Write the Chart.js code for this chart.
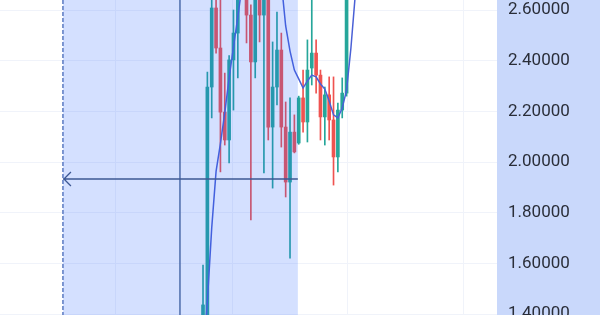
<!DOCTYPE html>
<html>
<head>
<meta charset="utf-8">
<script src="https://cdn.jsdelivr.net/npm/chart.js@4.4.1/dist/chart.umd.min.js"></script>
<style>
  html, body { margin: 0; padding: 0; background: #fff; }
  #chart { display: block; }
</style>
</head>
<body>
<canvas id="chart" width="600" height="315"></canvas>
<script>
// candles, left to right (values above ~2.64 run off the top of the view)
const opens  = [1.37, 1.39, 2.296, 2.608, 2.45, 2.197, 2.087, 2.403, 2.509, 2.70, 2.72, 2.58, 2.395, 2.68, 2.58, 2.68, 2.138, 2.296, 2.442, 2.138, 1.921, 2.118, 2.075, 2.253, 2.158, 2.371, 2.43, 2.343, 2.178, 2.265, 2.166, 2.02, 2.205, 2.272, 2.72, 2.80];
const highs  = [1.593, 2.355, 2.68, 2.68, 2.66, 2.351, 2.42, 2.60, 2.75, 2.80, 2.75, 2.62, 2.72, 2.72, 2.72, 2.72, 2.474, 2.592, 2.509, 2.237, 2.253, 2.186, 2.26, 2.363, 2.482, 2.66, 2.482, 2.363, 2.296, 2.336, 2.336, 2.233, 2.332, 2.75, 2.85, 2.90];
const lows   = [1.30, 1.30, 2.174, 2.43, 1.961, 2.067, 1.996, 2.205, 2.332, 2.66, 2.47, 1.771, 2.332, 2.474, 1.957, 2.087, 1.897, 2.225, 2.059, 1.862, 1.621, 2.036, 2.07, 2.118, 2.079, 2.304, 2.272, 2.087, 2.067, 2.087, 1.909, 1.961, 2.174, 2.26, 2.68, 2.76];
const closes = [1.436, 2.296, 2.608, 2.45, 2.197, 2.087, 2.403, 2.509, 2.70, 2.75, 2.58, 2.395, 2.68, 2.58, 2.68, 2.138, 2.296, 2.442, 2.138, 1.921, 2.118, 2.04, 2.253, 2.158, 2.363, 2.43, 2.343, 2.178, 2.265, 2.166, 2.02, 2.205, 2.272, 2.72, 2.80, 2.86];
const movingAvg = [1.20, 1.45, 1.74, 1.963, 2.073, 2.194, 2.332, 2.454, 2.573, 2.70, 2.80, 2.86, 2.90, 2.92, 2.92, 2.90, 2.86, 2.80, 2.71, 2.537, 2.438, 2.363, 2.328, 2.292, 2.32, 2.343, 2.336, 2.308, 2.288, 2.241, 2.186, 2.174, 2.213, 2.284, 2.45, 2.66];

// visible window and drawing-tool anchors, in bar index / price units
const viewX = { min: -46.67, max: 67.58 };
const viewY = { min: 1.3962, max: 2.6395 };
const timeGrid = [-20.2, 6.67, 33.1, 59.8];
const range = { start: -32.2, end: 21.8, marker: -5.3, price: 1.933 };

const UP = '#26a69a';
const DOWN = '#ef5350';
const candleColor = (ctx) => {
  const i = ctx.dataIndex;
  return closes[i] >= opens[i] ? UP : DOWN;
};

const rangeTool = {
  id: 'rangeTool',
  beforeDraw(chart) {
    const { ctx, chartArea: a } = chart;
    ctx.save();
    ctx.fillStyle = '#fff';
    ctx.fillRect(0, 0, chart.width, chart.height);
    ctx.fillStyle = '#c9d8fb';
    ctx.fillRect(a.right, 0, chart.width - a.right, chart.height);
    ctx.restore();
  },
  afterDatasetsDraw(chart) {
    const { ctx, chartArea: a } = chart;
    const xs = chart.scales.x, ys = chart.scales.y;
    const x0 = xs.getPixelForValue(range.start);
    const x1 = xs.getPixelForValue(range.end);
    const xm = xs.getPixelForValue(range.marker);
    const ym = ys.getPixelForValue(range.price);

    ctx.save();
    ctx.fillStyle = 'rgba(41, 98, 255, 0.2)';
    ctx.fillRect(x0, a.top, x1 - x0, a.bottom - a.top);

    // dashed left edge
    ctx.strokeStyle = '#5a79c2';
    ctx.lineWidth = 1.5;
    ctx.setLineDash([4, 2]);
    ctx.beginPath();
    ctx.moveTo(x0, a.top);
    ctx.lineTo(x0, a.bottom);
    ctx.stroke();
    ctx.setLineDash([]);

    // vertical marker
    ctx.strokeStyle = '#4d6cab';
    ctx.beginPath();
    ctx.moveTo(xm, a.top);
    ctx.lineTo(xm, a.bottom);
    ctx.stroke();

    // horizontal arrow
    ctx.strokeStyle = '#3d5894';
    ctx.lineWidth = 1.3;
    ctx.beginPath();
    ctx.moveTo(x1, ym);
    ctx.lineTo(x0, ym);
    ctx.moveTo(x0 + 8, ym - 7);
    ctx.lineTo(x0 + 1, ym);
    ctx.lineTo(x0 + 8, ym + 7);
    ctx.stroke();
    ctx.restore();
  },
};

new Chart(document.getElementById('chart'), {
  type: 'bar',
  data: {
    datasets: [
      {
        type: 'line',
        label: 'MA',
        data: movingAvg.map((v, i) => ({ x: i, y: v })),
        borderColor: '#4a60d6',
        borderWidth: 1.5,
        pointRadius: 0,
        tension: 0,
        order: 0,
      },
      {
        label: 'body',
        data: opens.map((o, i) => ({ x: i, y: [o, closes[i]] })),
        backgroundColor: candleColor,
        barThickness: 3,
        grouped: false,
        order: 1,
      },
      {
        label: 'wick',
        data: lows.map((l, i) => ({ x: i, y: [l, highs[i]] })),
        backgroundColor: candleColor,
        barThickness: 1,
        grouped: false,
        order: 2,
      },
    ],
  },
  options: {
    responsive: false,
    animation: false,
    events: [],
    layout: { padding: 0 },
    plugins: {
      legend: { display: false },
      tooltip: { enabled: false },
    },
    scales: {
      x: {
        type: 'linear',
        min: viewX.min,
        max: viewX.max,
        offset: false,
        grid: { color: '#f0f3fa', drawTicks: false, offset: false },
        border: { display: false },
        ticks: { display: false },
        afterBuildTicks: (s) => {
          s.ticks = timeGrid.map((v) => ({ value: v }));
        },
        afterFit: (s) => {
          s.height = 0;
        },
      },
      y: {
        position: 'right',
        min: viewY.min,
        max: viewY.max,
        grid: { color: '#f0f3fa', drawTicks: false },
        border: { display: false },
        ticks: {
          stepSize: 0.2,
          includeBounds: false,
          padding: 11,
          color: '#2a2e39',
          font: { family: 'Roboto', size: 17 },
          callback: (v) => v.toFixed(5),
        },
        afterFit: (s) => {
          s.width = 103;
          s.paddingTop = 0;
          s.paddingBottom = 0;
        },
      },
    },
  },
  plugins: [rangeTool],
});
</script>
</body>
</html>
